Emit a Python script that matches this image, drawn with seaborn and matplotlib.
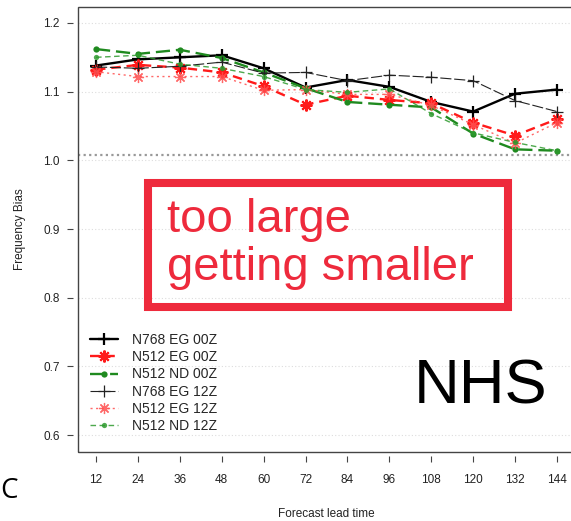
import numpy as np
import pandas as pd
import seaborn as sns
import matplotlib.pyplot as plt
from matplotlib.patches import Rectangle

# lead times (hours) and frequency bias per experiment
lead_time = [12, 24, 36, 48, 60, 72, 84, 96, 108, 120, 132, 144]
n768_eg_00z = [1.138, 1.147, 1.150, 1.153, 1.134, 1.106, 1.117, 1.107, 1.085, 1.071, 1.097, 1.103]
n512_eg_00z = [1.132, 1.139, 1.135, 1.128, 1.108, 1.081, 1.094, 1.088, 1.083, 1.055, 1.036, 1.060]
n512_nd_00z = [1.162, 1.155, 1.161, 1.149, 1.128, 1.105, 1.085, 1.081, 1.077, 1.039, 1.016, 1.014]
n768_eg_12z = [1.136, 1.134, 1.137, 1.143, 1.127, 1.128, 1.116, 1.124, 1.121, 1.116, 1.087, 1.071]
n512_eg_12z = [1.129, 1.122, 1.122, 1.122, 1.102, 1.103, 1.096, 1.096, 1.080, 1.052, 1.025, 1.055]
n512_nd_12z = [1.150, 1.153, 1.140, 1.134, 1.122, 1.103, 1.099, 1.104, 1.068, 1.040, 1.026, 1.014]

y_ticks = [0.6, 0.7, 0.8, 0.9, 1.0, 1.1, 1.2]

sns.set_theme(style='white')
plt.rcParams['font.family'] = ['Liberation Sans', 'DejaVu Sans']

W, H = 571, 521
fig = plt.figure(figsize=(W / 100, H / 100), dpi=100)
ax = fig.add_axes([77.6 / W, (H - 451.5) / H, 497.8 / W, 445 / H])

asterisk = (8, 2, 0)
series = [
    ('N768 EG 00Z', n768_eg_00z, dict(color='black', lw=1.7, ls='-', marker='+', ms=8, mew=1.6)),
    ('N512 EG 00Z', n512_eg_00z, dict(color='#ff1a1a', lw=1.7, ls=(0, (4, 2.5)), marker=asterisk, ms=8.5, mew=1.5)),
    ('N512 ND 00Z', n512_nd_00z, dict(color='#1f8a1f', lw=1.7, ls=(0, (6, 2.5)), marker='o', ms=4.5, mew=0)),
    ('N768 EG 12Z', n768_eg_12z, dict(color='#222222', lw=0.8, ls=(0, (10, 2.5)), marker='+', ms=8, mew=0.9)),
    ('N512 EG 12Z', n512_eg_12z, dict(color='#ff4d4d', lw=1.0, ls=(0, (1.5, 2.5)), marker=asterisk, ms=8, mew=0.9, alpha=0.85)),
    ('N512 ND 12Z', n512_nd_12z, dict(color='#2e9a2e', lw=1.0, ls=(0, (4, 2.5)), marker='o', ms=3.8, mew=0, alpha=0.85)),
]

for name, vals, st in series:
    df = pd.DataFrame({'lead': lead_time, 'bias': vals})
    sns.lineplot(data=df, x='lead', y='bias', ax=ax, label=name,
                 mec=st['color'], mfc=st['color'], **st)

# reference grid and the "perfect" line
for yv in y_ticks:
    ax.axhline(yv, color='#dddddd', lw=0.8, ls=(0, (1, 2)), zorder=0)
ax.axhline(1.008, color='#999999', lw=1.6, ls=(0, (1, 1.5)), zorder=0)

ax.set_xlim(6.72, 149.28)
ax.set_ylim(0.576, 1.224)
ax.set_xticks(lead_time)
ax.set_yticks(y_ticks)
ax.set_yticklabels([f'{v:.1f}' for v in y_ticks], rotation=90, va='center')
ax.tick_params(axis='both', which='both', direction='out', length=4, width=0.8,
               color='#444444', labelsize=8.5, labelcolor='#222222',
               bottom=True, left=True, pad=6)
ax.tick_params(axis='x', pad=9)

for s in ax.spines.values():
    s.set_visible(False)
ax.spines['left'].set_position(('outward', 3))
ax.spines['bottom'].set_position(('outward', 3))
ax.add_patch(Rectangle((0, 0), 1, 1, transform=ax.transAxes, fill=False,
                       ec='#444444', lw=1.0, clip_on=False, zorder=5))

ax.set_xlabel('Forecast lead time', fontsize=8.5, color='#222222', labelpad=16)
ax.set_ylabel('Frequency Bias', fontsize=8.5, color='#222222', labelpad=12)

ax.legend(loc='upper left', bbox_to_anchor=(90 / W, 1 - 333 / H),
          bbox_transform=fig.transFigure, frameon=False, fontsize=10,
          handlelength=2.0, handletextpad=1.0, labelspacing=0.23,
          borderpad=0, borderaxespad=0)

# annotation box
fig.patches.append(Rectangle((148 / W, 1 - 307 / H), 360 / W, 124 / H,
                             transform=fig.transFigure, fill=False,
                             ec='#ee2a3c', lw=5.8, zorder=6))
fig.text(167 / W, 1 - 232 / H, 'too large', color='#ee2a3c', fontsize=34, zorder=7)
fig.text(167 / W, 1 - 280 / H, 'getting smaller', color='#ee2a3c', fontsize=34, zorder=7)

fig.text(414 / W, 1 - 403 / H, 'NHS', color='black', fontsize=45.5)
fig.text(0.5 / W, 1 - 498 / H, 'C', color='black', fontsize=20, family=['Open Sans', 'DejaVu Sans'])

fig.savefig('out.png', dpi=100)
